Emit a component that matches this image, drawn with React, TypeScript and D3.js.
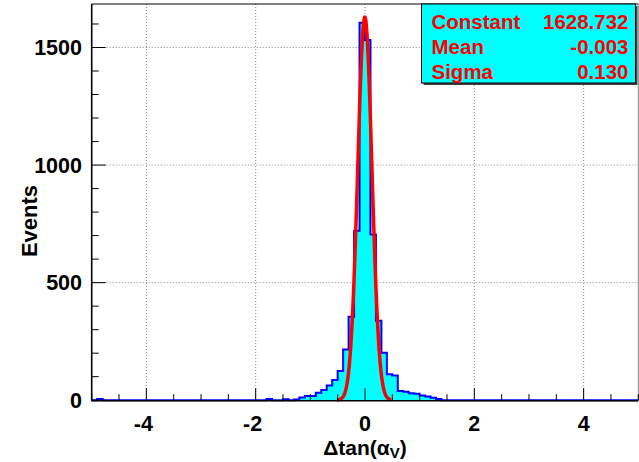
import React from "react";
import * as d3 from "d3";

const binLow = -5;
const binWidth = 0.1;
// 100 bins from -5 to 5
const counts: number[] = [
  0, 5, 0, 0, 0, 0, 0, 0, 0, 0,
  0, 0, 0, 0, 0, 0, 0, 0, 0, 0,
  0, 0, 0, 0, 0, 0, 0, 0, 0, 0,
  0, 0, 5, 0, 0, 4, 0, 3, 12, 18,
  18, 32, 43, 63, 86, 124, 216, 355, 721, 1605,
  1532, 705, 338, 202, 110, 105, 39, 36, 30, 27,
  20, 16, 10, 5, 0, 0, 0, 0, 0, 0,
  0, 0, 0, 0, 0, 0, 0, 0, 0, 0,
  0, 0, 0, 0, 0, 0, 0, 0, 0, 0,
  0, 0, 0, 0, 0, 0, 0, 0, 0, 0,
];

const fitConstant = 1628.732;
const fitMean = -0.003;
const fitSigma = 0.13;
const fitRange = [-0.51, 0.48];

const xMajorTicks = [-4, -2, 0, 2, 4];
const yMajorTicks = [0, 500, 1000, 1500];
const statsLabels = ["Constant", "Mean", "Sigma"];
const statsValues = ["1628.732", "-0.003", "0.130"];

export default function App() {
  const W = 639;
  const H = 462;
  const x = d3.scaleLinear().domain([-5, 5]).range([91.7, 638.3]);
  const y = d3.scaleLinear().domain([0, 1685]).range([400.2, 4]);

  const pts: [number, number][] = [];
  pts.push([x(binLow), y(0)]);
  counts.forEach((c, i) => {
    const x0 = binLow + i * binWidth;
    const x1 = x0 + binWidth;
    pts.push([x(x0), y(c)]);
    pts.push([x(x1), y(c)]);
  });
  pts.push([x(binLow + counts.length * binWidth), y(0)]);
  const line = d3.line<[number, number]>().x((d) => d[0]).y((d) => d[1]);
  const histPath = line(pts) || "";

  const gaussPts: [number, number][] = d3
    .range(0, 201)
    .map((k) => fitRange[0] + ((fitRange[1] - fitRange[0]) * k) / 200)
    .map((v) => [
      x(v),
      y(fitConstant * Math.exp(-0.5 * ((v - fitMean) / fitSigma) ** 2)),
    ]);
  const gaussPath = line(gaussPts) || "";

  const xMinor = d3.range(-5, 5.001, 0.5).filter((v) => !xMajorTicks.some((m) => Math.abs(m - v) < 1e-6));
  const yMinor = d3.range(0, 1601, 100).filter((v) => v % 500 !== 0);

  const left = x(-5);
  const right = x(5);
  const top = y(1685);
  const bottom = y(0);

  const font = "'Liberation Sans', Arial, Helvetica, sans-serif";

  return (
    <svg
      width={W}
      height={H}
      style={{ position: "absolute", left: 0, top: 0, background: "#fff" }}
      fontFamily={font}
    >
      <rect x={0} y={0} width={W} height={H} fill="#fff" />
      {xMajorTicks.map((t) => (
        <line key={"gx" + t} x1={x(t)} x2={x(t)} y1={top} y2={bottom} stroke="#888" strokeWidth={1} strokeDasharray="1,2" />
      ))}
      {yMajorTicks.filter((t) => t > 0).map((t) => (
        <line key={"gy" + t} x1={left} x2={right} y1={y(t)} y2={y(t)} stroke="#888" strokeWidth={1} strokeDasharray="1,2" />
      ))}
      <path d={histPath} fill="#00ffff" stroke="#0000ff" strokeWidth={2} />
      <path d={gaussPath} fill="none" stroke="#ff0000" strokeWidth={3.5} />
      <line x1={left} x2={right} y1={top} y2={top} stroke="#000" strokeWidth={1} />
      <line x1={right} x2={right} y1={top} y2={bottom} stroke="#888" strokeWidth={1} />
      <line x1={left} x2={left} y1={top} y2={bottom + 1} stroke="#000" strokeWidth={1.6} />
      <line x1={left} x2={right} y1={bottom + 0.5} y2={bottom + 0.5} stroke="#000" strokeWidth={1.6} />
      {xMajorTicks.map((t) => (
        <line key={"xt" + t} x1={x(t)} x2={x(t)} y1={bottom} y2={bottom - 12} stroke="#000" strokeWidth={1} />
      ))}
      {xMinor.map((t) => (
        <line key={"xm" + t} x1={x(t)} x2={x(t)} y1={bottom} y2={bottom - 6} stroke="#000" strokeWidth={1} />
      ))}
      {yMajorTicks.map((t) => (
        <line key={"yt" + t} x1={left} x2={left + 14} y1={y(t)} y2={y(t)} stroke="#000" strokeWidth={1} />
      ))}
      {yMinor.map((t) => (
        <line key={"ym" + t} x1={left} x2={left + 7} y1={y(t)} y2={y(t)} stroke="#000" strokeWidth={1} />
      ))}
      {xMajorTicks.map((t) => (
        <text key={"xl" + t} x={x(t) - (t < 0 ? 3 : 0)} y={431} textAnchor="middle" fontSize={21.5} fontWeight="bold" fill="#000">
          {String(t)}
        </text>
      ))}
      {yMajorTicks.map((t) => (
        <text key={"yl" + t} x={82} y={y(t) + 7.5} textAnchor="end" fontSize={21.5} fontWeight="bold" fill="#000">
          {String(t)}
        </text>
      ))}
      <text x={365} y={455} textAnchor="middle" fontSize={21} fontWeight="bold" fill="#000">
        Δtan(α<tspan fontSize={15} dy={3}>V</tspan><tspan dy={-3}>)</tspan>
      </text>
      <text transform="translate(37,221) rotate(-90)" textAnchor="middle" fontSize={22} fontWeight="bold" fill="#000">
        Events
      </text>
      <rect x={423.5} y={6} width={214} height={79} fill="#444" />
      <rect x={421.5} y={4} width={214} height={79} fill="#00ffff" stroke="#000" strokeWidth={1} />
      {statsLabels.map((s, i) => (
        <text key={"sl" + i} x={431.5} y={28.5 + i * 25} fontSize={20.5} fontWeight="bold" fill="#ff0000">
          {s}
        </text>
      ))}
      {statsValues.map((s, i) => (
        <text key={"sv" + i} x={628.5} y={28.5 + i * 25} textAnchor="end" fontSize={20.5} fontWeight="bold" fill="#ff0000">
          {s}
        </text>
      ))}
    </svg>
  );
}
